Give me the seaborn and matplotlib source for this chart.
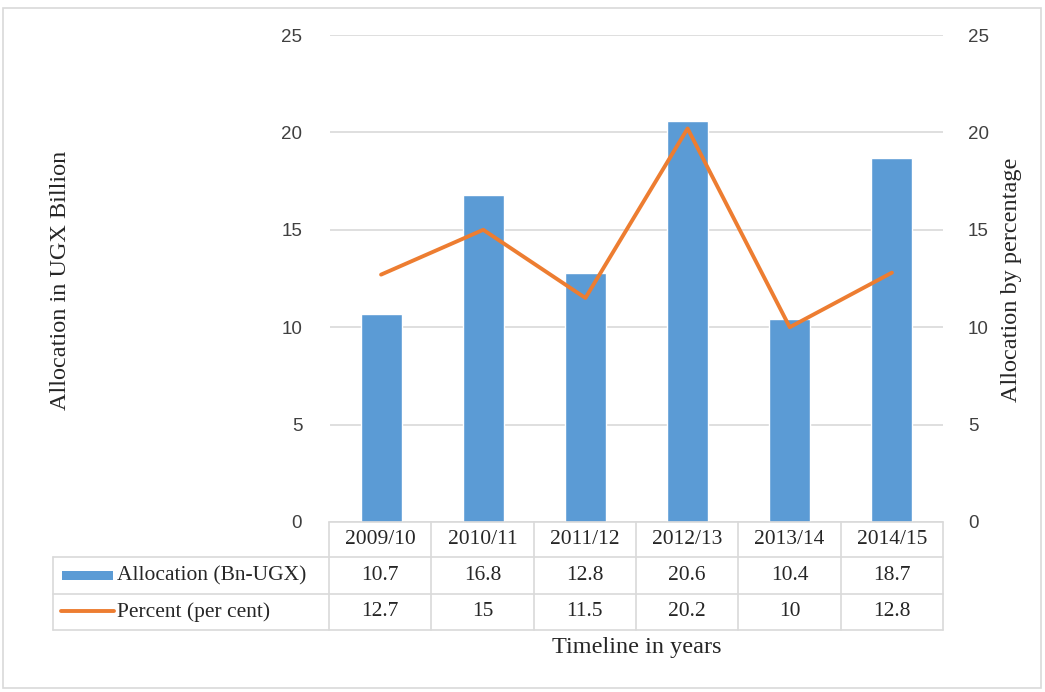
import matplotlib
matplotlib.use('Agg')
import matplotlib.pyplot as plt
from matplotlib.patches import Rectangle
from matplotlib.lines import Line2D
import pandas as pd
import seaborn as sns

# data
years = ['2009/10', '2010/11', '2011/12', '2012/13', '2013/14', '2014/15']
allocation = [10.7, 16.8, 12.8, 20.6, 10.4, 18.7]
percent = [12.7, 15, 11.5, 20.2, 10, 12.8]
allocation_txt = ['10.7', '16.8', '12.8', '20.6', '10.4', '18.7']
percent_txt = ['12.7', '15', '11.5', '20.2', '10', '12.8']
yticks = [0, 5, 10, 15, 20, 25]

BLUE = '#5B9BD5'
ORANGE = '#ED7D31'
GRID = '#D9D9D9'
TXT = '#262626'

sns.set_style('white')
plt.rcParams['font.family'] = ['Liberation Serif', 'DejaVu Serif']

W, H = 1045, 692
fig = plt.figure(figsize=(W / 100, H / 100), dpi=100)

def fx(px):
	return px / W

def fy(py):
	return 1 - py / H

ax = fig.add_axes([fx(330), fy(522), fx(943) - fx(330), fy(35) - fy(522)])

df = pd.DataFrame({'year': years, 'alloc': allocation, 'pct': percent})
sns.barplot(data=df, x='year', y='alloc', color=BLUE, width=0.4, saturation=1, ax=ax)
ax.set_ylim(0, 25)
ax.set_xlim(-0.5, 5.5)
ax.set_yticks(yticks)
ax.yaxis.grid(True, color=GRID, linewidth=1.2)
ax.set_axisbelow(True)
for s in ax.spines.values():
	s.set_visible(False)
ax.set_xticks([])
ax.set_xlabel('')
ax.set_ylabel('')
ax.tick_params(axis='y', length=0, pad=20, labelsize=13.5, labelcolor='#404040')
for t in ax.get_yticklabels():
	t.set_family('Liberation Sans')

ax2 = ax.twinx()
sns.lineplot(data=df, x='year', y='pct', color=ORANGE, linewidth=2.8, sort=False, ax=ax2)
ax2.set_ylim(0, 25)
ax2.set_yticks(yticks)
for s in ax2.spines.values():
	s.set_visible(False)
ax2.set_xlabel('')
ax2.set_ylabel('')
ax2.tick_params(axis='y', length=0, pad=18, labelsize=13.5, labelcolor='#404040')
for t in ax2.get_yticklabels():
	t.set_family('Liberation Sans')
ax2.set_xlim(-0.5, 5.5)

# data table below the plot
ft = fig.transFigure
col_left, col_right, label_left = 329, 943, 53
row_y = [522, 557, 594, 630]
cw = (col_right - col_left) / len(years)

lines = []
lines.append(Line2D([fx(col_left), fx(col_right)], [fy(row_y[0])] * 2))
for yy in row_y[1:]:
	lines.append(Line2D([fx(label_left), fx(col_right)], [fy(yy)] * 2))
for i in range(len(years) + 1):
	x = col_left + i * cw
	lines.append(Line2D([fx(x), fx(x)], [fy(row_y[0]), fy(row_y[3])]))
lines.append(Line2D([fx(label_left), fx(label_left)], [fy(row_y[1]), fy(row_y[3])]))
for ln in lines:
	ln.set_color(GRID)
	ln.set_linewidth(1.2)
	ln.set_transform(ft)
	fig.add_artist(ln)

tfs = 15.5
for i, y in enumerate(years):
	cx = col_left + (i + 0.5) * cw
	fig.text(fx(cx), fy((row_y[0] + row_y[1]) / 2), y, ha='center', va='center', fontsize=tfs, color=TXT)
	fig.text(fx(cx), fy((row_y[1] + row_y[2]) / 2), allocation_txt[i], ha='center', va='center', fontsize=tfs, color=TXT)
	fig.text(fx(cx), fy((row_y[2] + row_y[3]) / 2), percent_txt[i], ha='center', va='center', fontsize=tfs, color=TXT)

# legend keys
fig.add_artist(Rectangle((fx(62), fy(580)), fx(113) - fx(62), fy(571) - fy(580), transform=ft, color=BLUE, lw=0))
fig.add_artist(Line2D([fx(61), fx(114)], [fy(611)] * 2, transform=ft, color=ORANGE, linewidth=2.8, solid_capstyle='round'))
fig.text(fx(117), fy((row_y[1] + row_y[2]) / 2), 'Allocation (Bn-UGX)', ha='left', va='center', fontsize=tfs, color=TXT)
fig.text(fx(117), fy((row_y[2] + row_y[3]) / 2), 'Percent (per cent)', ha='left', va='center', fontsize=tfs, color=TXT)

# axis titles
fig.text(fx(60), fy(280), 'Allocation in UGX Billion', rotation=90, ha='center', va='center', fontsize=17.5, color=TXT)
fig.text(fx(1012), fy(280), 'Allocation by percentage', rotation=90, ha='center', va='center', fontsize=17.5, color=TXT)
fig.text(fx(637), fy(648), 'Timeline in years', ha='center', va='center', fontsize=17.5, color=TXT)

# chart border
fig.add_artist(Rectangle((fx(3), fy(688)), fx(1041) - fx(3), fy(8) - fy(688), transform=ft, fill=False, edgecolor=GRID, lw=1.2))

fig.savefig('out.png', dpi=100)
